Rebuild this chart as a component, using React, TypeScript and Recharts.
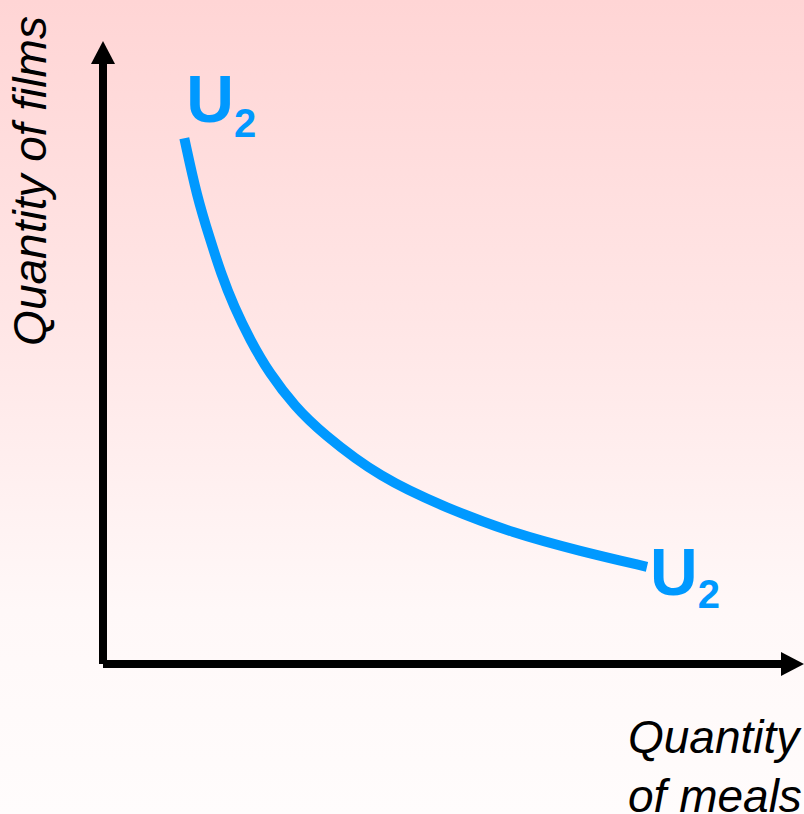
import { Line, LineChart, LabelList, ReferenceLine, XAxis, YAxis } from "recharts";

// indifference curve U2 (axis units 0–100)
const meals = [11.6, 13.4, 15.3, 16.8, 18.7, 21.0, 23.7, 27.4, 31.2, 39.5, 49.1, 58.5, 68.1, 77.6];
const films = [84.4, 75.0, 68.1, 62.8, 57.3, 52.0, 46.7, 41.3, 37.1, 29.9, 25.0, 21.0, 18.1, 15.6];
const curveName = "U";
const curveSub = "2";
const xTitle = ["Quantity", "of meals"];
const yTitle = "Quantity of films";

const data = meals.map((m, i) => ({ meals: m, films: films[i] }));

const BLUE = "#0099FF";
const FONT = "'Liberation Sans', Arial, sans-serif";

function Arrow(props: any) {
  const { x1, y1, x2, y2 } = props;
  const dx = x2 - x1;
  const dy = y2 - y1;
  const len = Math.hypot(dx, dy);
  const ux = dx / len;
  const uy = dy / len;
  const head = 23;
  const half = 12;
  const bx = x2 - ux * head;
  const by = y2 - uy * head;
  return (
    <g>
      <line x1={x1} y1={y1} x2={bx} y2={by} stroke="#000" strokeWidth={8} />
      <polygon
        points={`${x2},${y2} ${bx - uy * half},${by + ux * half} ${bx + uy * half},${by - ux * half}`}
        fill="#000"
      />
    </g>
  );
}

function CurveLabel(props: any) {
  const { x, y, index } = props;
  const last = data.length - 1;
  if (index !== 0 && index !== last) return null;
  const tx = index === 0 ? x + 2 : x + 3;
  const ty = index === 0 ? y - 16 : y + 28;
  return (
    <text x={tx} y={ty} fill={BLUE} fontFamily={FONT} fontWeight="bold" fontSize={66}>
      {curveName}
      <tspan fontSize={40} dy={index === 0 ? 15 : 13}>
        {curveSub}
      </tspan>
    </text>
  );
}

function XTitle(props: any) {
  const vb = props.viewBox || { x: 103, y: 664, width: 701 };
  const left = vb.x + vb.width - 176;
  return (
    <text fontFamily={FONT} fontStyle="italic" fontSize={46} fill="#000">
      <tspan x={left} y={vb.y + 89}>{xTitle[0]}</tspan>
      <tspan x={left} y={vb.y + 148}>{xTitle[1]}</tspan>
    </text>
  );
}

function YTitle(props: any) {
  const vb = props.viewBox || { x: 0, y: 41, width: 103 };
  const cx = vb.x + vb.width - 57;
  const cy = vb.y + 140;
  return (
    <text
      x={cx}
      y={cy}
      transform={`rotate(-90, ${cx}, ${cy})`}
      textAnchor="middle"
      fontFamily={FONT}
      fontStyle="italic"
      fontSize={46}
      fill="#000"
    >
      {yTitle}
    </text>
  );
}

export default function App() {
  return (
    <div
      style={{
        position: "fixed",
        left: 0,
        top: 0,
        width: 804,
        height: 814,
        background: "linear-gradient(#FFD5D5 0%, #FFE6E6 40%, #FFF8F8 75%, #FFFCFC 100%)",
      }}
    >
      <LineChart width={804} height={814} data={data} margin={{ top: 41, right: 0, bottom: 0, left: 0 }}>
        <XAxis
          dataKey="meals"
          type="number"
          domain={[0, 100]}
          height={150}
          tick={false}
          tickLine={false}
          axisLine={false}
          label={{ content: (p: any) => <XTitle {...p} /> }}
        />
        <YAxis
          dataKey="films"
          type="number"
          domain={[0, 100]}
          width={103}
          tick={false}
          tickLine={false}
          axisLine={false}
          label={{ content: (p: any) => <YTitle {...p} /> }}
        />
        <ReferenceLine segment={[{ x: 0, y: 0 }, { x: 0, y: 100 }]} shape={<Arrow />} ifOverflow="visible" />
        <ReferenceLine segment={[{ x: 0, y: 0 }, { x: 100, y: 0 }]} shape={<Arrow />} ifOverflow="visible" />
        <Line
          type="basis"
          dataKey="films"
          stroke={BLUE}
          strokeWidth={10}
          dot={false}
          activeDot={false}
          isAnimationActive={false}
        >
          <LabelList dataKey="films" content={<CurveLabel />} />
        </Line>
      </LineChart>
    </div>
  );
}
